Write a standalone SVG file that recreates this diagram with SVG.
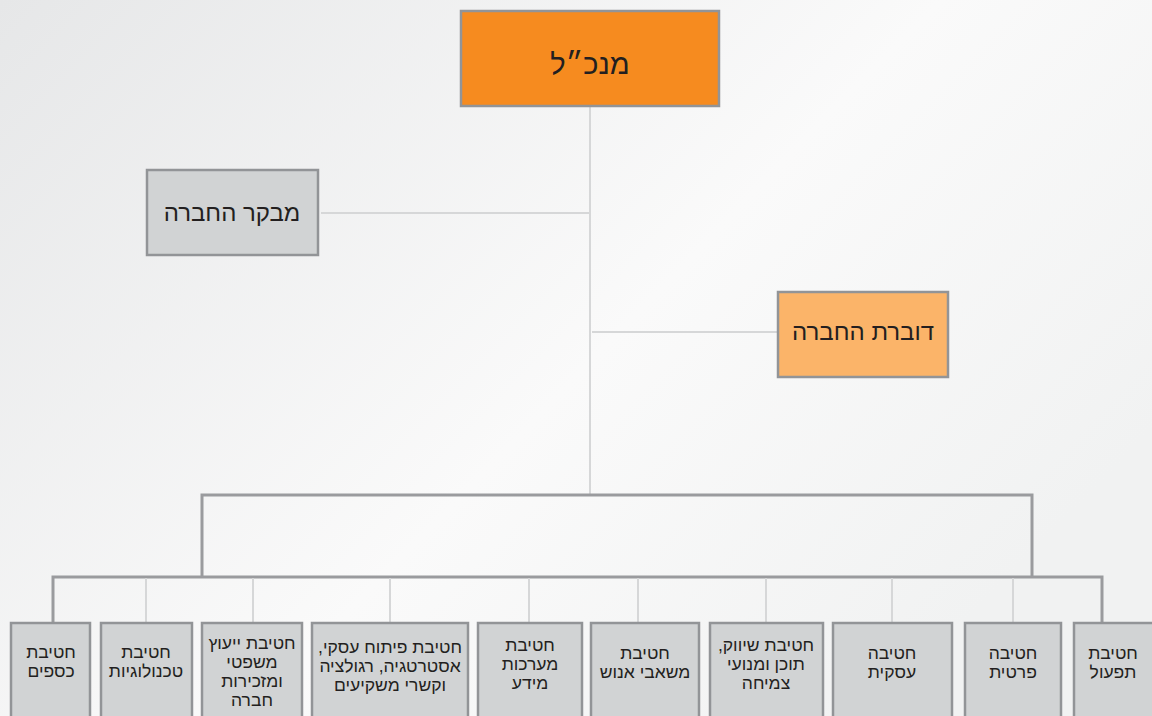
<svg xmlns="http://www.w3.org/2000/svg" width="1152" height="716" viewBox="0 0 1152 716">
<defs>
<linearGradient id="bg" x1="0" y1="0" x2="1" y2="0.6">
<stop offset="0" stop-color="#e6e7e8"/>
<stop offset="0.6" stop-color="#fafafa"/>
<stop offset="1" stop-color="#f1f2f2"/>
</linearGradient>
<style>
.box{stroke:#929497;stroke-width:2.5}
.gray{fill:#d1d3d4}
.t{font-family:"Liberation Sans","DejaVu Sans",sans-serif;fill:#231f20;text-anchor:middle}
.s{font-size:17.5px}
.dark{stroke:#9a9b9e;stroke-width:3;fill:none}
.light{stroke:#d6d7d8;stroke-width:2;fill:none}
</style>
</defs>
<rect width="1152" height="716" fill="url(#bg)"/>
<g id="connectors">
<line class="light" x1="590" y1="107" x2="590" y2="495" stroke-width="3"/>
<line class="light" x1="321" y1="213" x2="590" y2="213"/>
<line class="light" x1="592" y1="332" x2="777" y2="332"/>
<path class="dark" d="M202 577 V495 H1032 V577"/>
<path class="dark" d="M53 622 V577 H1102 V622"/>
<line class="light" x1="146" y1="578" x2="146" y2="622"/>
<line class="light" x1="253" y1="578" x2="253" y2="622"/>
<line class="light" x1="390" y1="578" x2="390" y2="622"/>
<line class="light" x1="529" y1="578" x2="529" y2="622"/>
<line class="light" x1="638" y1="578" x2="638" y2="622"/>
<line class="light" x1="766" y1="578" x2="766" y2="622"/>
<line class="light" x1="892" y1="578" x2="892" y2="622"/>
<line class="light" x1="1013" y1="578" x2="1013" y2="622"/>
</g>
<g id="ceo">
<rect class="box" x="461" y="11" width="258" height="95" fill="#f68b1f"/>
<text class="t" x="590" y="74" font-size="29" direction="rtl">מנכ״ל</text>
</g>
<g id="auditor">
<rect class="box gray" x="147" y="170" width="171" height="85"/>
<text class="t" x="232" y="221" font-size="24" direction="rtl">מבקר החברה</text>
</g>
<g id="spokesperson">
<rect class="box" x="778" y="292" width="170" height="85" fill="#fbb469"/>
<text class="t" x="863" y="340" font-size="24" direction="rtl">דוברת החברה</text>
</g>
<g id="finance">
<rect class="box gray" x="11" y="623" width="79" height="100"/>
<text class="t s" x="51" direction="rtl"><tspan x="51" y="658">חטיבת</tspan><tspan x="51" y="677">כספים</tspan></text>
</g>
<g id="technologies">
<rect class="box gray" x="101" y="623" width="91" height="100"/>
<text class="t s" x="146" direction="rtl"><tspan x="146" y="658">חטיבת</tspan><tspan x="146" y="677">טכנולוגיות</tspan></text>
</g>
<g id="legal">
<rect class="box gray" x="202" y="623" width="100" height="100"/>
<text class="t s" x="252" direction="rtl"><tspan x="252" y="649">חטיבת ייעוץ</tspan><tspan x="252" y="668">משפטי</tspan><tspan x="252" y="687">ומזכירות</tspan><tspan x="252" y="706">חברה</tspan></text>
</g>
<g id="bizdev">
<rect class="box gray" x="312" y="623" width="156" height="100"/>
<text class="t s" x="390" direction="rtl"><tspan x="390" y="653">חטיבת פיתוח עסקי,</tspan><tspan x="390" y="672">אסטרטגיה, רגולציה</tspan><tspan x="390" y="691">וקשרי משקיעים</tspan></text>
</g>
<g id="infosys">
<rect class="box gray" x="478" y="623" width="104" height="100"/>
<text class="t s" x="530" direction="rtl"><tspan x="530" y="651">חטיבת</tspan><tspan x="530" y="670">מערכות</tspan><tspan x="530" y="689">מידע</tspan></text>
</g>
<g id="hr">
<rect class="box gray" x="591" y="623" width="108" height="100"/>
<text class="t s" x="645" direction="rtl"><tspan x="645" y="659">חטיבת</tspan><tspan x="645" y="678">משאבי אנוש</tspan></text>
</g>
<g id="marketing">
<rect class="box gray" x="710" y="623" width="113" height="100"/>
<text class="t s" x="766" direction="rtl"><tspan x="766" y="651">חטיבת שיווק,</tspan><tspan x="766" y="670">תוכן ומנועי</tspan><tspan x="766" y="689">צמיחה</tspan></text>
</g>
<g id="business">
<rect class="box gray" x="833" y="623" width="119" height="100"/>
<text class="t s" x="892" direction="rtl"><tspan x="892" y="659">חטיבה</tspan><tspan x="892" y="678">עסקית</tspan></text>
</g>
<g id="private">
<rect class="box gray" x="965" y="623" width="96" height="100"/>
<text class="t s" x="1013" direction="rtl"><tspan x="1013" y="659">חטיבה</tspan><tspan x="1013" y="678">פרטית</tspan></text>
</g>
<g id="operations">
<rect class="box gray" x="1074" y="623" width="90" height="100"/>
<text class="t s" x="1113" direction="rtl"><tspan x="1113" y="659">חטיבת</tspan><tspan x="1113" y="678">תפעול</tspan></text>
</g>
</svg>
